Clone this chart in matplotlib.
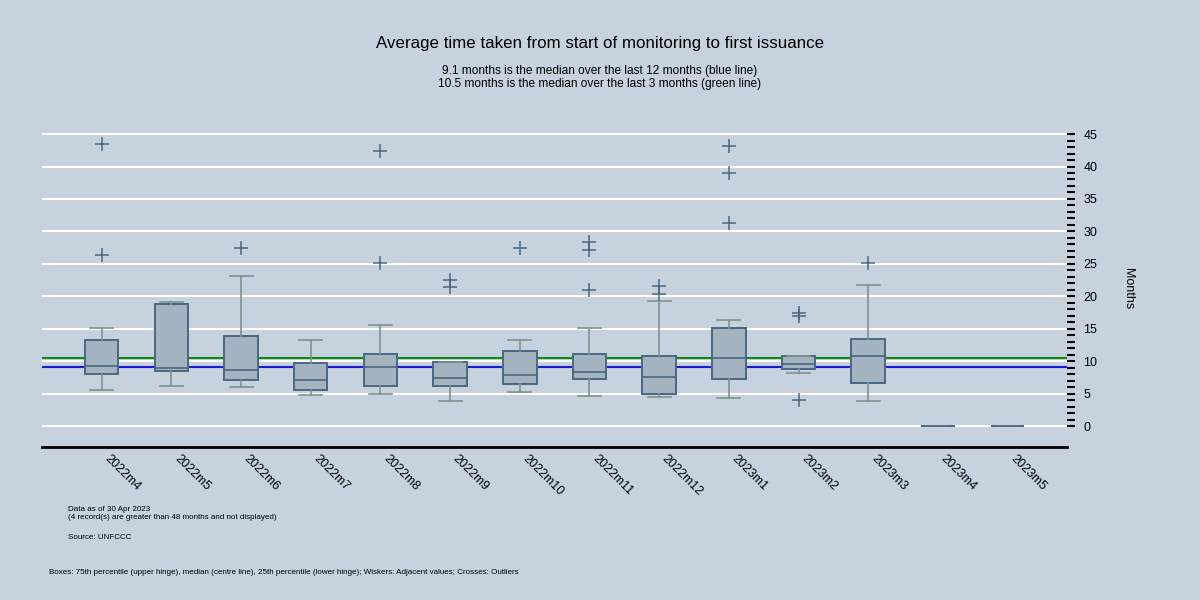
import numpy as np
import matplotlib
matplotlib.use("Agg")
import matplotlib.pyplot as plt
import matplotlib.transforms as mtransforms
from matplotlib.ticker import FixedLocator

plt.rcParams['font.family'] = ['Liberation Sans', 'DejaVu Sans']

months = ['2022m4', '2022m5', '2022m6', '2022m7', '2022m8', '2022m9', '2022m10',
          '2022m11', '2022m12', '2023m1', '2023m2', '2023m3', '2023m4', '2023m5']
q1 = [8.1, 8.5, 7.1, 5.55, 6.2, 6.15, 6.55, 7.35, 4.95, 7.3, 8.85, 6.7, 0, 0]
med = [9.25, 8.9, 8.6, 7.1, 9.1, 7.45, 7.95, 8.35, 7.55, 10.5, 9.6, 10.85, 0, 0]
q3 = [13.25, 18.9, 13.85, 9.75, 11.2, 9.95, 11.65, 11.1, 10.8, 15.2, 10.8, 13.4, 0, 0]
whis_lo = [5.55, 6.25, 6.05, 4.85, 4.95, 3.95, 5.3, 4.65, 4.5, 4.3, 8.2, 3.95, 0, 0]
whis_hi = [15.15, 19.1, 23.15, 13.25, 15.65, 9.95, 13.35, 15.15, 19.3, 16.35, 10.8, 21.8, 0, 0]
outliers = [[43.5, 26.35], [], [27.4], [], [42.4, 25.2], [22.5, 21.4], [27.4],
            [28.4, 27.2, 21.0], [21.6, 20.35], [43.15, 38.95, 31.35],
            [17.45, 17.05, 4.0], [25.2], [], []]

median_12m = 9.1
median_3m = 10.5

bg = '#c6d2de'
fig = plt.figure(figsize=(12, 6), dpi=100, facecolor=bg)
ax = fig.add_axes([0.035, 0.255, 0.854, 0.527], facecolor=bg)

stats = []
for i, m in enumerate(months):
    stats.append(dict(label=m, q1=q1[i], med=med[i], q3=q3[i],
                      whislo=whis_lo[i], whishi=whis_hi[i], fliers=outliers[i]))

for y in range(0, 50, 5):
    ax.axhline(y, color='white', lw=1.5, zorder=0)
ax.axhline(median_12m, color='#1a1ad8', lw=1.5, zorder=1)
ax.axhline(median_3m, color='#108a10', lw=1.5, zorder=1)

edge = '#4a6882'
wcol = '#7c948e'
ax.bxp(stats, positions=np.arange(1, len(months) + 1), widths=0.48,
       patch_artist=True, manage_ticks=False,
       boxprops=dict(facecolor='#a3b3bf', edgecolor=edge, lw=1.4),
       medianprops=dict(color=edge, lw=1.2),
       whiskerprops=dict(color=wcol, lw=1.2),
       capprops=dict(color=wcol, lw=1.2),
       capwidths=0.33,
       flierprops=dict(marker='+', markersize=10, markeredgecolor=edge,
                       markeredgewidth=1.1, linestyle='none'))

ax.set_xlim(0.143, 14.85)
ax.set_ylim(-3.2, 45.5)

ax.set_xticks(np.arange(1, len(months) + 1))
ax.set_xticklabels(months, rotation=-45, ha='left', va='top',
                   rotation_mode='anchor', fontsize=9)
ax.tick_params(axis='x', length=0, pad=4)
shift = mtransforms.ScaledTranslation(9 / 100, 0, fig.dpi_scale_trans)
for lab in ax.get_xticklabels():
    lab.set_transform(lab.get_transform() + shift)

ax.yaxis.tick_right()
ax.yaxis.set_label_position('right')
ax.set_yticks(range(0, 50, 5))
ax.yaxis.set_minor_locator(FixedLocator(range(0, 46)))
ax.tick_params(axis='y', which='both', length=6, width=1.5, color='black',
               labelsize=9, pad=6)
ax.set_ylabel('Months', rotation=270, labelpad=26, fontsize=9)

for s in ['top', 'left', 'right']:
    ax.spines[s].set_visible(False)
ax.spines['bottom'].set_linewidth(2)
ax.spines['bottom'].set_color('black')

fig.text(0.5, 0.928, 'Average time taken from start of monitoring to first issuance',
         ha='center', va='center', fontsize=12.2)
fig.text(0.5, 0.871, '9.1 months is the median over the last 12 months (blue line)\n'
         '10.5 months is the median over the last 3 months (green line)',
         ha='center', va='center', fontsize=8.6, linespacing=1.05)

fig.text(0.057, 0.157, 'Data as of 30 Apr 2023\n(4 record(s) are greater than 48 months and not displayed)',
         va='top', fontsize=5.8, linespacing=1.2)
fig.text(0.057, 0.102, 'Source: UNFCCC', fontsize=5.8)
fig.text(0.041, 0.044, 'Boxes: 75th percentile (upper hinge), median (centre line), 25th percentile '
         '(lower hinge); Wiskers: Adjacent values; Crosses: Outliers', fontsize=5.8)

fig.savefig('out.png', dpi=100, facecolor=bg)
